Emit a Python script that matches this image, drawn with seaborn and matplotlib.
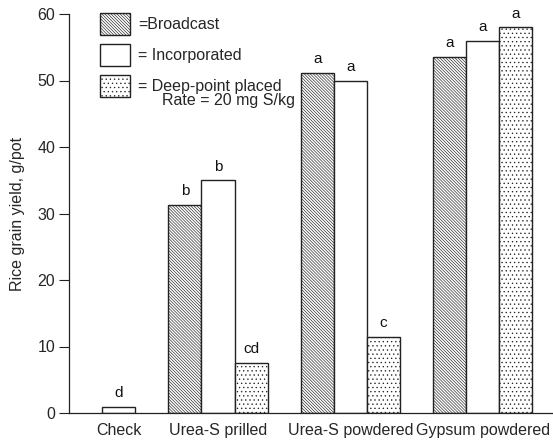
import matplotlib
matplotlib.use("Agg")
import matplotlib.pyplot as plt
import seaborn as sns
import pandas as pd
from matplotlib.patches import Patch

# ---- data ----
sources = ["Check", "Urea-S prilled", "Urea-S powdered", "Gypsum powdered"]
methods = ["Broadcast", "Incorporated", "Deep-point placed"]
broadcast = [0.0, 31.3, 51.2, 53.6]
incorporated = [0.9, 35.0, 50.0, 56.0]
deep_point = [0.0, 7.5, 11.5, 58.0]
letters_broadcast = ["", "b", "a", "a"]
letters_incorporated = ["d", "b", "a", "a"]
letters_deep = ["", "cd", "c", "a"]
legend_labels = ["=Broadcast", "= Incorporated", "= Deep-point placed"]
rate_note = "Rate = 20 mg S/kg"
y_label = "Rice grain yield, g/pot"
y_ticks = [0, 10, 20, 30, 40, 50, 60]

# layout: group positions along x (check group sits closer to the axis)
group_pos = [0.25, 1.0, 2.0, 3.0]

rows = []
for vals, m in zip([broadcast, incorporated, deep_point], methods):
    for p, v in zip(group_pos, vals):
        rows.append({"pos": p, "yield": v, "method": m})
df = pd.DataFrame(rows)

sns.set_theme(style="ticks")
plt.rcParams["font.family"] = ["Liberation Sans", "DejaVu Sans"]
plt.rcParams["hatch.linewidth"] = 0.45
plt.rcParams["hatch.color"] = "#222222"

fig = plt.figure(figsize=(5.53, 4.41), dpi=100)
ax = fig.add_axes([69 / 553, 1 - 413 / 441, 1 - 69 / 553, (413 - 14) / 441])

sns.barplot(data=df, x="pos", y="yield", hue="method", hue_order=methods,
            native_scale=True, width=1.0, dodge=True, palette=["white"] * 3,
            edgecolor="#222222", linewidth=1.0, legend=False, ax=ax, errorbar=None)

hatches = ["\\" * 11, "", "." * 4]
containers = ax.containers
for cont, h in zip(containers, hatches):
    for bar in cont:
        bar.set_hatch(h)
        if bar.get_height() == 0:
            bar.set_visible(False)

# significance letters
for cont, lets in zip(containers, [letters_broadcast, letters_incorporated, letters_deep]):
    for bar, lt in zip(cont, lets):
        if lt:
            ax.text(bar.get_x() + bar.get_width() / 2, bar.get_height() + 1.0, lt,
                    ha="center", va="bottom", fontsize=11, color="#111111")

ax.set_xlim(-0.125, 3.53)
ax.set_ylim(0, 60)
ax.set_yticks(y_ticks)
ax.set_xticks(group_pos)
ax.set_xticklabels(sources, fontsize=11.5)
ax.tick_params(axis="x", length=0, pad=7)
ax.tick_params(axis="y", length=7, width=0.8, labelsize=11.5, pad=3, color="#222222")
ax.set_xlabel("")
ax.set_ylabel(y_label, fontsize=11.5, labelpad=9)
for s in ["top", "right"]:
    ax.spines[s].set_visible(False)
for s in ["left", "bottom"]:
    ax.spines[s].set_linewidth(0.9)
    ax.spines[s].set_color("#222222")

handles = [Patch(facecolor="white", edgecolor="#222222", hatch=h, linewidth=1.0)
           for h in hatches]
leg = ax.legend(handles, legend_labels, loc="upper left",
                bbox_to_anchor=((100 - 69) / 484, 1.0 + 1 / 399), frameon=False,
                fontsize=11.5, handlelength=1.9, handleheight=1.75,
                handletextpad=0.5, labelspacing=0.55, borderaxespad=0, borderpad=0)

ax.text((162 - 69) / 484, 1 - (101 - 14) / 399, rate_note, transform=ax.transAxes,
        fontsize=11.5, ha="left", va="center")

fig.savefig("out.png", dpi=100)
